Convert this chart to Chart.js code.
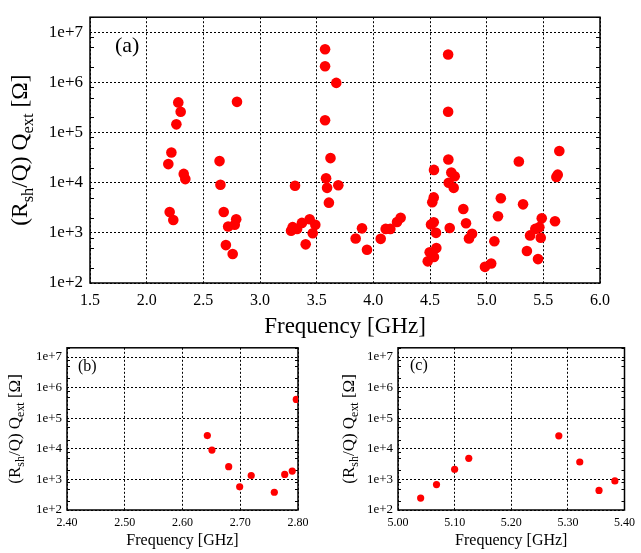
<!DOCTYPE html>
<html>
<head>
<meta charset="utf-8">
<script src="https://cdn.jsdelivr.net/npm/chart.js@4.4.0/dist/chart.umd.min.js"></script>
<style>
  html, body { margin: 0; padding: 0; background: #fff; }
  body { width: 641px; height: 553px; position: relative; overflow: hidden; }
  canvas { position: absolute; }
</style>
</head>
<body>
<canvas id="chartA" width="641" height="341" style="left:0;top:0"></canvas>
<canvas id="chartB" width="320" height="218" style="left:0;top:335px"></canvas>
<canvas id="chartC" width="321" height="218" style="left:320px;top:335px"></canvas>
<script>
// mode frequencies [GHz] and (R_sh/Q) Q_ext [Ohm]
const FREQ_GHZ = [
  2.191, 2.203, 2.218, 2.235, 2.262, 2.279, 2.300, 2.327, 2.341,
  2.643, 2.651, 2.680, 2.699, 2.719, 2.759, 2.777, 2.790, 2.797,
  3.274, 3.288, 3.309, 3.327, 3.370, 3.403, 3.438, 3.465, 3.488,
  3.574, 3.574, 3.574, 3.583, 3.592, 3.608, 3.622, 3.673, 3.691,
  3.844, 3.900, 3.944, 4.065, 4.109, 4.150, 4.209, 4.241,
  4.480, 4.497, 4.509, 4.520, 4.533, 4.533, 4.535, 4.535, 4.553, 4.556,
  4.660, 4.660, 4.662, 4.665, 4.674, 4.688, 4.709, 4.718, 4.794, 4.818, 4.844, 4.871,
  4.985, 5.040, 5.068, 5.100, 5.125, 5.284, 5.321, 5.355, 5.383,
  5.429, 5.453, 5.465, 5.477, 5.486, 5.603, 5.615, 5.627, 5.641
];
const RSH_QEXT = [
  2.35e4, 2.6e3, 4.0e4, 1.8e3, 1.46e5, 4.0e5, 2.6e5, 1.5e4, 1.18e4,
  2.7e4, 9.1e3, 2.6e3, 5.7e2, 1.34e3, 3.8e2, 1.45e3, 1.87e3, 4.1e5,
  1.1e3, 1.3e3, 8.7e3, 1.2e3, 1.58e3, 5.9e2, 1.87e3, 9.8e2, 1.45e3,
  4.6e6, 2.1e6, 1.76e5, 1.23e4, 7.9e3, 4.0e3, 3.1e4, 9.8e5, 8.9e3,
  7.7e2, 1.23e3, 4.6e2, 7.6e2, 1.2e3, 1.2e3, 1.65e3, 2.0e3,
  2.7e2, 4.1e2, 1.47e3, 4.1e3, 5.1e3, 1.62e3, 3.3e2, 1.8e4, 1.0e3, 5.0e2,
  3.6e6, 2.6e5, 2.9e4, 1.0e4, 1.25e3, 1.6e4, 7.9e3, 1.35e4, 3.0e3, 1.55e3, 7.7e2, 9.6e2,
  2.1e2, 2.45e2, 6.8e2, 2.15e3, 4.9e3, 2.65e4, 3.7e3, 4.35e2, 8.9e2,
  1.2e3, 3.0e2, 1.3e3, 8.0e2, 1.95e3, 1.7e3, 1.3e4, 1.45e4, 4.3e4
];

const Y_TICKS = [1e2, 1e3, 1e4, 1e5, 1e6, 1e7];
const Y_TICK_LABELS = ['1e+2', '1e+3', '1e+4', '1e+5', '1e+6', '1e+7'];
const X_TICKS_A = [1.5, 2.0, 2.5, 3.0, 3.5, 4.0, 4.5, 5.0, 5.5, 6.0];
const X_TICKS_B = [2.40, 2.50, 2.60, 2.70, 2.80];
const X_TICKS_C = [5.00, 5.10, 5.20, 5.30, 5.40];

const FONT = '"Liberation Serif", "Times New Roman", serif';
const points = FREQ_GHZ.map((f, i) => ({ x: f, y: RSH_QEXT[i] }));

// frame, minor ticks, panel tag and the y title with subscripts
const panelDecor = {
    id: 'panelDecor',
    beforeDatasetsDraw(chart, args, o) {
        const { ctx, chartArea: a } = chart;
        const ys = chart.scales.y;
        ctx.save();
        ctx.strokeStyle = '#000';
        ctx.lineWidth = 1;
        ctx.beginPath();
        for (let d = 100; d < ys.max; d *= 10) {
            [2, 5, 8].forEach(m => {
                if (d * m > ys.max) return;
                const py = Math.round(ys.getPixelForValue(d * m)) + 0.5;
                ctx.moveTo(a.left, py); ctx.lineTo(a.left + o.minorLen, py);
                ctx.moveTo(a.right, py); ctx.lineTo(a.right - o.minorLen, py);
            });
        }
        ctx.stroke();
        ctx.lineWidth = o.frameWidth;
        ctx.strokeRect(a.left, a.top, a.right - a.left, a.bottom - a.top);
        ctx.restore();
    },
    afterDraw(chart, args, o) {
        const { ctx, chartArea: a } = chart;
        ctx.save();
        ctx.fillStyle = '#000';
        ctx.font = o.labelSize + 'px ' + FONT;
        ctx.textBaseline = 'middle';
        ctx.textAlign = 'left';
        ctx.fillText(o.label, a.left + o.labelDx, a.top + o.labelDy);

        // (R_sh/Q) Q_ext [Ω], rotated
        const size = o.titleSize, sub = size * 0.7;
        const parts = [['(R', 0], ['sh', 1], ['/Q) Q', 0], ['ext', 1], [' [\u03A9]', 0]];
        let total = 0;
        parts.forEach(([t, s]) => {
            ctx.font = (s ? sub : size) + 'px ' + FONT;
            total += ctx.measureText(t).width;
        });
        ctx.translate(o.titleX, (a.top + a.bottom) / 2);
        ctx.rotate(-Math.PI / 2);
        ctx.textBaseline = 'alphabetic';
        let x = -total / 2;
        parts.forEach(([t, s]) => {
            ctx.font = (s ? sub : size) + 'px ' + FONT;
            ctx.fillText(t, x, s ? size * 0.58 : size * 0.33);
            x += ctx.measureText(t).width;
        });
        ctx.restore();
    }
};

function makeConfig(p) {
    return {
        type: 'scatter',
        data: {
            datasets: [{
                data: points,
                pointRadius: p.radius,
                pointHoverRadius: p.radius,
                pointBorderWidth: 0,
                backgroundColor: 'rgb(255, 0, 0)',
                borderColor: 'rgb(255, 0, 0)'
            }]
        },
        options: {
            responsive: false,
            animation: false,
            events: [],
            layout: { padding: { left: 0, right: p.padRight, top: p.padTop, bottom: 0 } },
            plugins: {
                legend: { display: false },
                tooltip: { enabled: false },
                panelDecor: p.decor
            },
            scales: {
                x: {
                    type: 'linear',
                    min: p.xTicks[0],
                    max: p.xTicks[p.xTicks.length - 1],
                    afterBuildTicks: s => { s.ticks = p.xTicks.map(v => ({ value: v })); },
                    afterFit: s => { s.height = p.xHeight; },
                    ticks: {
                        autoSkip: false,
                        maxRotation: 0,
                        padding: p.xTickPad,
                        color: '#000',
                        font: { family: FONT, size: p.xTickSize },
                        callback: v => v.toFixed(p.xDigits)
                    },
                    grid: { color: '#000', lineWidth: 1, drawTicks: false },
                    border: { display: false, dash: [2, 2] },
                    title: {
                        display: true,
                        text: 'Frequency [GHz]',
                        color: '#000',
                        font: { family: FONT, size: p.xTitleSize },
                        padding: { top: 0, bottom: p.xTitlePad }
                    }
                },
                y: {
                    type: 'logarithmic',
                    min: 100,
                    max: 2e7,
                    afterBuildTicks: s => { s.ticks = Y_TICKS.map(v => ({ value: v })); },
                    afterFit: s => { s.width = p.yWidth; },
                    ticks: {
                        autoSkip: false,
                        padding: p.yTickPad,
                        color: '#000',
                        font: { family: FONT, size: p.yTickSize },
                        callback: v => Y_TICK_LABELS[Y_TICKS.indexOf(v)]
                    },
                    grid: { color: '#000', lineWidth: 1, drawTicks: false },
                    border: { display: false, dash: [2, 2] }
                }
            }
        },
        plugins: [panelDecor]
    };
}

const configA = makeConfig({
    radius: 5.3, padRight: 41, padTop: 4, xHeight: 58, yWidth: 90,
    xTicks: X_TICKS_A, xDigits: 1, xTickSize: 16, xTickPad: 8, xTitleSize: 23, xTitlePad: 0,
    yTickSize: 17, yTickPad: 7,
    decor: { label: '(a)', labelSize: 22, labelDx: 25, labelDy: 29, titleX: 19, titleSize: 23.5, minorLen: 4, frameWidth: 1.5 }
});
const configB = makeConfig({
    radius: 3.6, padRight: 22, padTop: 7, xHeight: 43, yWidth: 67,
    xTicks: X_TICKS_B, xDigits: 2, xTickSize: 12, xTickPad: 6, xTitleSize: 16, xTitlePad: 3,
    yTickSize: 13, yTickPad: 5,
    decor: { label: '(b)', labelSize: 16, labelDx: 11, labelDy: 19, titleX: 14, titleSize: 17, minorLen: 3, frameWidth: 1.5 }
});
const configC = makeConfig({
    radius: 3.6, padRight: 11, padTop: 7, xHeight: 43, yWidth: 78,
    xTicks: X_TICKS_C, xDigits: 2, xTickSize: 12, xTickPad: 6, xTitleSize: 16, xTitlePad: 3,
    yTickSize: 13, yTickPad: 5,
    decor: { label: '(c)', labelSize: 16, labelDx: 12, labelDy: 18, titleX: 28, titleSize: 17, minorLen: 3, frameWidth: 1.5 }
});

var chartA = new Chart(document.getElementById('chartA'), configA);
var chartB = new Chart(document.getElementById('chartB'), configB);
var chartC = new Chart(document.getElementById('chartC'), configC);
</script>
</body>
</html>
